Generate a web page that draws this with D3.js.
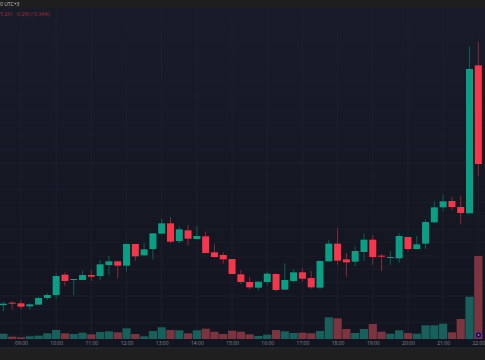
<!DOCTYPE html>
<html>
<head>
<meta charset="utf-8">
<script src="https://cdnjs.cloudflare.com/ajax/libs/d3/7.8.5/d3.min.js"></script>
<style>
  html, body { margin: 0; padding: 0; background: #131722; overflow: hidden; }
  svg { display: block; }
  text { font-family: "Open Sans", sans-serif; }
</style>
</head>
<body>
<svg width="485" height="360"></svg>
<script>
// 15 minute candles, first one at 08:30
var open = [4.818,4.825,4.823,4.814,4.819,4.839,4.848,4.909,4.894,4.893,4.908,4.905,4.938,4.949,4.936,5.001,4.967,4.986,5.032,5.063,5.010,5.042,5.016,5.024,4.976,4.968,4.956,4.910,4.887,4.870,4.887,4.911,4.864,4.890,4.916,4.899,4.870,4.949,5.002,4.955,4.948,4.977,5.014,4.966,4.961,4.958,5.022,4.986,5.002,5.066,5.111,5.130,5.112,5.093,5.537];
var high = [4.828,4.829,4.832,4.823,4.843,4.853,4.913,4.916,4.896,4.921,4.923,4.953,4.965,4.951,5.003,5.001,5.004,5.034,5.077,5.082,5.053,5.058,5.055,5.038,5.000,4.976,4.956,4.923,4.903,4.888,4.918,4.913,4.943,4.925,4.928,4.920,4.953,5.013,5.048,4.974,4.994,5.033,5.028,4.971,4.980,5.033,5.022,5.025,5.075,5.128,5.148,5.143,5.146,5.593,5.607];
var low = [4.799,4.805,4.805,4.804,4.818,4.833,4.837,4.875,4.848,4.893,4.890,4.893,4.908,4.898,4.918,4.951,4.965,4.955,5.032,5.003,5.003,4.996,5.015,4.974,4.960,4.942,4.911,4.881,4.865,4.863,4.878,4.858,4.864,4.885,4.888,4.867,4.865,4.949,4.938,4.903,4.935,4.951,4.938,4.920,4.938,4.945,4.980,4.986,4.986,5.064,5.100,5.103,5.060,5.093,5.206];
var close = [4.822,4.822,4.813,4.820,4.839,4.848,4.905,4.890,4.896,4.908,4.903,4.940,4.949,4.936,5.001,4.964,4.985,5.033,5.063,5.008,5.045,5.017,5.025,4.974,4.962,4.955,4.911,4.887,4.871,4.888,4.912,4.863,4.893,4.916,4.897,4.871,4.950,5.002,4.951,4.946,4.980,5.014,4.962,4.964,4.962,5.025,4.986,5.000,5.067,5.111,5.129,5.112,5.094,5.526,5.241];
var volume = [53,23,17,27,33,57,90,57,50,63,47,70,77,67,107,50,27,80,117,90,87,57,87,103,73,50,83,73,47,30,43,90,77,60,63,57,80,217,207,100,60,100,150,73,53,87,60,53,137,137,153,67,200,423,830];
var hourLabels = ["09:00","10:00","11:00","12:00","13:00","14:00","15:00","16:00","17:00","18:00","19:00","20:00","21:00","22:00"];
var gridPrices = [5.645,5.605,5.565,5.525,5.485,5.445,5.405,5.365,5.325,5.285,5.245,5.205,5.165,5.125,5.085,5.045,5.005,4.965,4.925,4.885,4.845,4.805,4.765,4.725,4.685];

var legendTime = "0 UTC+3";
var legendText = "5.241  -0.296 (-5.34%)";

var svg = d3.select("svg"),
    width = +svg.attr("width"),
    height = +svg.attr("height"),
    plotTop = 8,
    plotBottom = 339,
    axisBottom = 348;

var start = Date.UTC(2024, 0, 8, 8, 30);
var times = open.map(function(d, i) { return new Date(start + i * 15 * 60000); });

var x = d3.scaleUtc()
    .domain([times[0], times[times.length - 1]])
    .range([3.4, 478.3]);

// price scale, y pixels of the picture: 0.003 per pixel
var y = d3.scaleLinear().domain([5.733, 4.653]).range([0, 360]);
var yVol = d3.scaleLinear().domain([0, 830]).range([plotBottom, 256]);

var defs = svg.append("defs");
var grad = defs.append("linearGradient").attr("id", "bg").attr("x1", 0).attr("x2", 0).attr("y1", 0).attr("y2", 1);
grad.append("stop").attr("offset", "0%").attr("stop-color", "#181c28");
grad.append("stop").attr("offset", "100%").attr("stop-color", "#12151f");

svg.append("rect").attr("width", width).attr("height", axisBottom).attr("fill", "url(#bg)");

// grid
var hours = hourLabels.map(function(d) {
  var h = +d.split(":")[0];
  return new Date(Date.UTC(2024, 0, 8, h, 0));
});

svg.append("g").selectAll("line").data(hours).enter().append("line")
    .attr("x1", function(d) { return x(d); })
    .attr("x2", function(d) { return x(d); })
    .attr("y1", plotTop)
    .attr("y2", plotBottom)
    .attr("stroke", "#1c202c")
    .attr("stroke-width", 1);

svg.append("g").selectAll("line").data(gridPrices).enter().append("line")
    .attr("x1", 0)
    .attr("x2", width)
    .attr("y1", function(d) { return y(d); })
    .attr("y2", function(d) { return y(d); })
    .attr("stroke", "#1a1e2a")
    .attr("stroke-width", 1);

// volume
svg.append("g").selectAll("rect").data(volume).enter().append("rect")
    .attr("x", function(d, i) { return x(times[i]) - 4.1; })
    .attr("width", 8.2)
    .attr("y", function(d) { return yVol(d); })
    .attr("height", function(d) { return plotBottom - yVol(d); })
    .attr("fill", function(d, i) { return close[i] >= open[i] ? "#18605c" : "#7c3540"; });

// last price line
svg.append("line")
    .attr("x1", 0)
    .attr("x2", width)
    .attr("y1", y(close[close.length - 1]))
    .attr("y2", y(close[close.length - 1]))
    .attr("stroke", "#f23645")
    .attr("stroke-opacity", 0.1)
    .attr("stroke-dasharray", "1,1");

// candles
var candle = svg.append("g").selectAll("g").data(open).enter().append("g");

candle.append("line")
    .attr("x1", function(d, i) { return x(times[i]); })
    .attr("x2", function(d, i) { return x(times[i]); })
    .attr("y1", function(d, i) { return y(high[i]); })
    .attr("y2", function(d, i) { return y(low[i]); })
    .attr("stroke", function(d, i) { return close[i] >= open[i] ? "#0f5c54" : "#8a2836"; })
    .attr("stroke-width", 1);

candle.append("rect")
    .attr("x", function(d, i) { return x(times[i]) - 3.5; })
    .attr("width", 7)
    .attr("y", function(d, i) { return y(Math.max(open[i], close[i])); })
    .attr("height", function(d, i) { return Math.max(1, Math.abs(y(open[i]) - y(close[i]))); })
    .attr("fill", function(d, i) { return close[i] >= open[i] ? "#089f85" : "#f8364b"; });

// time axis
var axis = svg.append("g")
    .attr("transform", "translate(0," + plotBottom + ")")
    .call(d3.axisBottom(x).tickValues(hours).tickSize(0).tickPadding(2).tickFormat(d3.utcFormat("%H:%M")));
axis.select(".domain").remove();
axis.selectAll("text")
    .attr("fill", "#82858f")
    .style("font-size", "5px")
    .style("font-family", "'Open Sans', sans-serif");

// header and footer bars
svg.append("rect").attr("width", width).attr("height", plotTop).attr("fill", "#1e1e1e");
svg.append("rect").attr("y", axisBottom).attr("width", width).attr("height", height - axisBottom).attr("fill", "#1f1f1f");
svg.append("line").attr("x1", 0).attr("x2", width).attr("y1", axisBottom).attr("y2", axisBottom).attr("stroke", "#2b2b2b");

svg.append("text").attr("x", 0).attr("y", 6).attr("fill", "#c4c4c4").style("font-size", "5px").text(legendTime);
svg.append("text").attr("x", 0).attr("y", 15.5).attr("fill", "#a8293a").style("font-size", "5px").attr("xml:space", "preserve").text(legendText);

// logo
var logo = svg.append("g").attr("transform", "translate(478.5,335)");
logo.append("circle").attr("r", 3.2).attr("fill", "#1a1030").attr("stroke", "#6a2fa0").attr("stroke-width", 1);
logo.append("circle").attr("r", 1).attr("fill", "#9a6fd0");
</script>
</body>
</html>
